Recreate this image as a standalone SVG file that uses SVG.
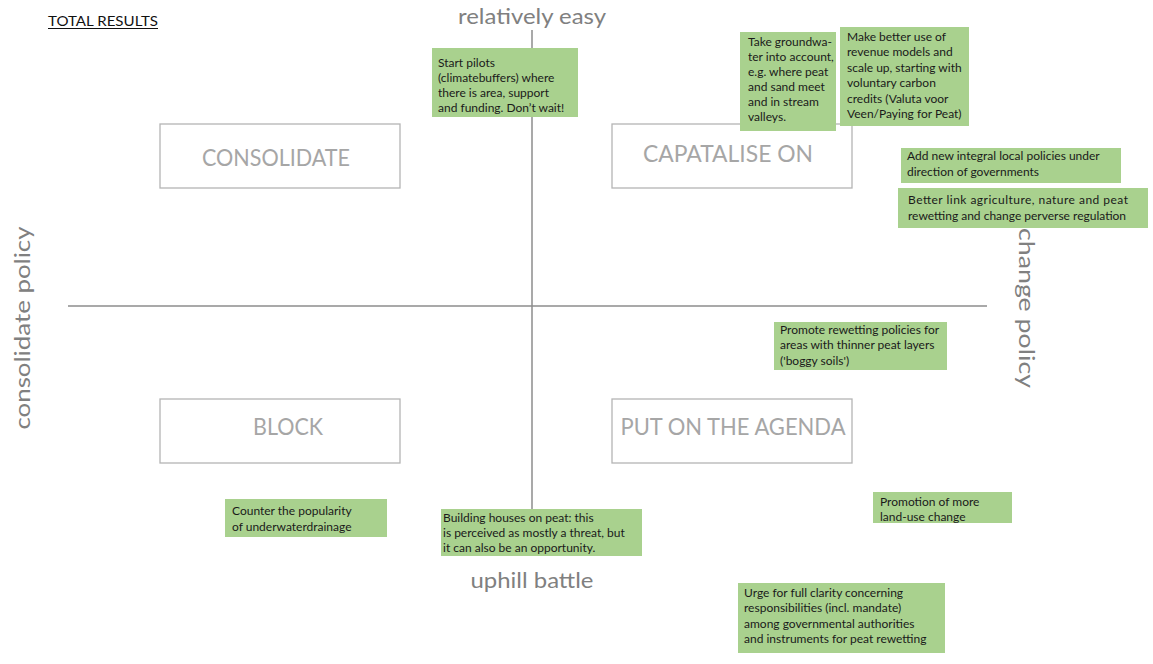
<svg xmlns="http://www.w3.org/2000/svg" width="1153" height="664" viewBox="0 0 1153 664">
<style>
.note rect{fill:#a9d18e}
.note text{font-family:Lato,"Liberation Sans",sans-serif;font-size:12px;fill:#1a1a1a}
.quad rect{fill:#fff;stroke:#b4b4b4;stroke-width:1.3}
.quad text{font-family:Lato,"Liberation Sans",sans-serif;font-size:23px;fill:#a6a6a6;text-anchor:middle}
.axis{font-family:Lato,"Liberation Sans",sans-serif;font-size:22px;fill:#808080;text-anchor:middle}
.ax{stroke:#8c8c8c;stroke-width:1.5;fill:none}
</style>
<rect width="1153" height="664" fill="#fff"/>
<g id="title">
<text x="48" y="26" font-family="Lato,'Liberation Sans',sans-serif" font-size="13" fill="#111" textLength="110" lengthAdjust="spacingAndGlyphs">TOTAL RESULTS</text>
<line x1="48" y1="28.5" x2="158" y2="28.5" stroke="#111" stroke-width="1"/>
</g>
<g id="connectors">
<line class="ax" x1="532" y1="30" x2="532" y2="510"/>
<line class="ax" x1="68" y1="306" x2="987" y2="306"/>
</g>
<g id="axis-labels">
<text class="axis" x="532" y="24" textLength="148" lengthAdjust="spacingAndGlyphs">relatively easy</text>
<text class="axis" x="532" y="588" textLength="123" lengthAdjust="spacingAndGlyphs">uphill battle</text>
<text class="axis" transform="translate(30,328) rotate(-90)" x="0" y="0" textLength="203" lengthAdjust="spacingAndGlyphs">consolidate policy</text>
<text class="axis" transform="translate(1019,308) rotate(90)" x="0" y="0" textLength="160" lengthAdjust="spacingAndGlyphs">change policy</text>
</g>
<g id="consolidate" class="quad">
<rect x="160" y="124" width="240" height="64"/>
<text x="276" y="166" textLength="148" lengthAdjust="spacingAndGlyphs">CONSOLIDATE</text>
</g>
<g id="capatalise" class="quad">
<rect x="612" y="124" width="240" height="64"/>
<text x="728" y="162" textLength="170" lengthAdjust="spacingAndGlyphs">CAPATALISE ON</text>
</g>
<g id="block" class="quad">
<rect x="160" y="399" width="240" height="64"/>
<text x="288" y="435" textLength="70" lengthAdjust="spacingAndGlyphs">BLOCK</text>
</g>
<g id="agenda" class="quad">
<rect x="612" y="399" width="240" height="64"/>
<text x="733" y="435" textLength="225" lengthAdjust="spacingAndGlyphs">PUT ON THE AGENDA</text>
</g>
<g id="n-pilots" class="note">
<rect x="432" y="48" width="146" height="69"/>
<text x="438" y="67">Start pilots</text>
<text x="438" y="82">(climatebuffers) where</text>
<text x="438" y="97">there is area, support</text>
<text x="438" y="112">and funding. Don’t wait!</text>
</g>
<g id="n-groundwater" class="note">
<rect x="740" y="32" width="96" height="99"/>
<text x="748" y="46">Take groundwa-</text>
<text x="748" y="61">ter into account,</text>
<text x="748" y="76">e.g. where peat</text>
<text x="748" y="91">and sand meet</text>
<text x="748" y="106">and in stream</text>
<text x="748" y="121">valleys.</text>
</g>
<g id="n-revenue" class="note">
<rect x="840" y="27" width="129" height="99"/>
<text x="847" y="41">Make better use of</text>
<text x="847" y="56">revenue models and</text>
<text x="847" y="72">scale up, starting with</text>
<text x="847" y="87">voluntary carbon</text>
<text x="847" y="103">credits (Valuta voor</text>
<text x="847" y="118">Veen/Paying for Peat)</text>
</g>
<g id="n-integral" class="note">
<rect x="901" y="148" width="220" height="35"/>
<text x="907" y="160">Add new integral local policies under</text>
<text x="907" y="176">direction of governments</text>
</g>
<g id="n-link" class="note">
<rect x="898" y="188" width="250" height="40"/>
<text x="908" y="204" textLength="220" lengthAdjust="spacing">Better link agriculture, nature and peat</text>
<text x="908" y="220">rewetting and change perverse regulation</text>
</g>
<g id="n-thinner" class="note">
<rect x="774" y="322" width="173" height="48"/>
<text x="780" y="334">Promote rewetting policies for</text>
<text x="780" y="349">areas with thinner peat layers</text>
<text x="780" y="365">('boggy soils')</text>
</g>
<g id="n-counter" class="note">
<rect x="225" y="499" width="162" height="38"/>
<text x="232" y="515">Counter the popularity</text>
<text x="232" y="531">of underwaterdrainage</text>
</g>
<g id="n-houses" class="note">
<rect x="441" y="509" width="201" height="47"/>
<text x="443" y="522">Building houses on peat: this</text>
<text x="443" y="537">is perceived as mostly a threat, but</text>
<text x="443" y="552">it can also be an opportunity.</text>
</g>
<g id="n-landuse" class="note">
<rect x="873" y="492" width="139" height="31"/>
<text x="880" y="506">Promotion of more</text>
<text x="880" y="521">land-use change</text>
</g>
<g id="n-clarity" class="note">
<rect x="738" y="583" width="207" height="70"/>
<text x="744" y="597">Urge for full clarity concerning</text>
<text x="744" y="612">responsibilities (incl. mandate)</text>
<text x="744" y="628">among governmental authorities</text>
<text x="744" y="643">and instruments for peat rewetting</text>
</g>
</svg>
